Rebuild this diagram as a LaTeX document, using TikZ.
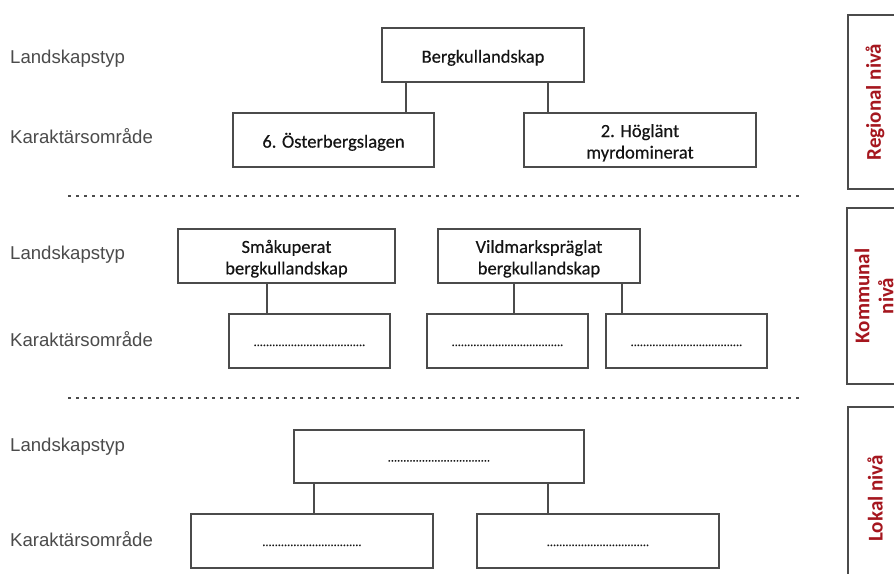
\documentclass[tikz,border=0pt]{standalone}
\usepackage{fontspec}
\setmainfont{Carlito}
\newfontfamily\boxfont[FakeBold=0.35]{Carlito}
\newfontfamily\labelfont{Liberation Sans}
\definecolor{lvred}{RGB}{165,22,30}
\definecolor{edgegray}{RGB}{75,75,75}
\definecolor{labgray}{RGB}{75,75,75}
\definecolor{boxtext}{RGB}{20,20,20}
\newcommand\hstrut{\rule{0pt}{18.5pt}}
\begin{document}
\begin{tikzpicture}[x=1pt,y=-1pt,
  box/.style={draw=edgegray, line width=2.9pt, minimum height=54pt, inner sep=0pt,
    align=center, font=\boxfont\fontsize{18.5}{21.5}\selectfont, text=boxtext},
  dotbox/.style={box, font=\boxfont\fontsize{12.3}{12}\selectfont, text height=10pt, text depth=0pt},
  lab/.style={anchor=base west, font=\labelfont\fontsize{18.6}{20}\selectfont, text=labgray, inner sep=0pt},
  lvlbox/.style={draw=edgegray, line width=2.9pt, rotate=90, minimum height=54pt, inner sep=0pt,
    font=\bfseries\fontsize{21}{24}\selectfont, text=lvred, align=center},
  sep/.style={draw=edgegray, line width=2.6pt, dash pattern=on 2.6pt off 5.4pt},
  conn/.style={draw=edgegray, line width=2.9pt}
]
\useasboundingbox (0,0) rectangle (894,573);
\clip (0,0) rectangle (894,573);
\fill[white] (0,0) rectangle (894,573);

% left labels
\node[lab] (l1a) at (10,63) {Landskapstyp};
\node[lab] (l1b) at (10,143) {Karaktärsområde};
\node[lab] (l2a) at (10,259) {Landskapstyp};
\node[lab] (l2b) at (10,346) {Karaktärsområde};
\node[lab] (l3a) at (10,451) {Landskapstyp};
\node[lab] (l3b) at (10,546) {Karaktärsområde};

% regional level
\node[box, minimum width=202pt] (berg) at (483,55) {\hstrut Bergkullandskap};
\node[box, minimum width=201pt] (oster) at (333.5,140) {\hstrut 6. Österbergslagen};
\node[box, minimum width=232pt] (hog) at (640,140) {\hstrut 2. Höglänt\\myrdominerat};
\coordinate (x1) at (406,0);
\coordinate (x2) at (548,0);
\draw[conn] (berg.south -| x1) -- (oster.north -| x1);
\draw[conn] (berg.south -| x2) -- (hog.north -| x2);

\coordinate (s1a) at (68,196);
\coordinate (s1b) at (800,196);
\draw[sep] (s1a) -- (s1b);

% kommunal level
\node[box, minimum width=217pt] (smak) at (286.5,256) {\hstrut Småkuperat\\bergkullandskap};
\node[box, minimum width=202pt] (vild) at (539,256) {\hstrut Vildmarkspräglat\\bergkullandskap};
\node[dotbox, minimum width=161pt] (k1) at (309.5,341) {....................................};
\node[dotbox, minimum width=161pt] (k2) at (507.5,341) {....................................};
\node[dotbox, minimum width=161pt] (k3) at (686.5,341) {....................................};
\coordinate (x3) at (267,0);
\coordinate (x4) at (514,0);
\coordinate (x5) at (622,0);
\draw[conn] (smak.south -| x3) -- (k1.north -| x3);
\draw[conn] (vild.south -| x4) -- (k2.north -| x4);
\draw[conn] (vild.south -| x5) -- (k3.north -| x5);

\coordinate (s2a) at (68,398);
\coordinate (s2b) at (800,398);
\draw[sep] (s2a) -- (s2b);

% lokal level
\node[dotbox, minimum width=290pt, minimum height=53pt] (lok) at (439,456.5) {.................................};
\node[dotbox, minimum width=242pt] (lo1) at (312,541) {................................};
\node[dotbox, minimum width=242pt] (lo2) at (598,541) {.................................};
\coordinate (x6) at (314,0);
\coordinate (x7) at (548,0);
\draw[conn] (lok.south -| x6) -- (lo1.north -| x6);
\draw[conn] (lok.south -| x7) -- (lo2.north -| x7);

% level boxes on the right
\node[lvlbox, minimum width=174pt] (reg) at (875,102) {Regional nivå};
\node[lvlbox, minimum width=176pt] (kom) at (874,296) {Kommunal\\nivå};
\node[lvlbox, minimum width=183pt] (lokl) at (875,498.5) {Lokal nivå};
\end{tikzpicture}
\end{document}
